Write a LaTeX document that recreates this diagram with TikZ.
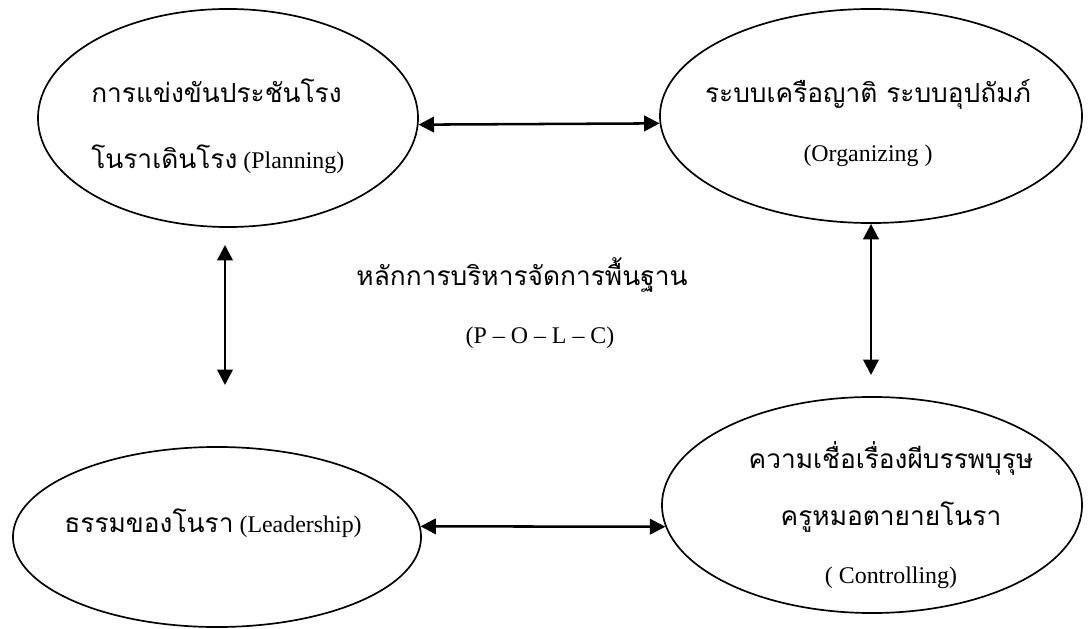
\documentclass[tikz,border=0pt]{standalone}
\usepackage{fontspec}
\setmainfont{Liberation Serif}
\newfontfamily\thai[Script=Thai, Scale=1.1]{Loma}
\usetikzlibrary{arrows.meta, shapes.geometric}

\tikzset{
    oval/.style={ellipse, draw, line width=1.2pt, inner sep=0pt},
    words/.style={inner sep=0pt, font=\fontsize{17}{42}\selectfont},
}

\begin{document}
\begin{tikzpicture}[x=0.025cm, y=-0.025cm, line width=1.8pt, >={Triangle[length=11pt, width=11pt]}]
    \useasboundingbox (0,0) rectangle (1091,629);

    \node[oval, minimum width=9.5cm, minimum height=5.45cm] (plan) at (228,118) {};
    \node[oval, minimum width=10.55cm, minimum height=5.35cm] (org) at (871,116) {};
    \node[oval, minimum width=10.2cm, minimum height=4.5cm] (lead) at (217,537) {};
    \node[oval, minimum width=10.5cm, minimum height=5.4cm] (ctrl) at (872,505) {};

    \node[words, align=left, anchor=west, font=\fontsize{17}{47}\selectfont] (plantext) at (90,126) {{\thai การแข่งขันประชันโรง}\\{\thai โนราเดินโรง} (Planning)};
    \node[words, align=center] (orgtext) at (868,123) {{\thai ระบบเครือญาติ ระบบอุปถัมภ์}\\(Organizing )};
    \node[words] (leadtext) at (213,523) {{\thai ธรรมของโนรา} (Leadership)};
    \node[words, align=center, font=\fontsize{17}{41}\selectfont] (ctrltext) at (891,515) {{\thai ความเชื่อเรื่องผีบรรพบุรุษ}\\{\thai ครูหมอตายายโนรา}\\( Controlling)};

    \node[words] (polc) at (522,275) {\thai หลักการบริหารจัดการพื้นฐาน};
    \node[words] (polcabbr) at (540,338) {(P – O – L – C)};

    \coordinate (ltop) at (225,245);
    \coordinate (lbot) at (225,385);
    \coordinate (rbot) at (871,375);

    \draw[<->] (plan.358) -- (org.182);
    \draw[<->] (ltop) -- (lbot);
    \draw[<->] (org.south) -- (rbot);
    \draw[<->] (lead.3) -- (ctrl.186);
\end{tikzpicture}
\end{document}
